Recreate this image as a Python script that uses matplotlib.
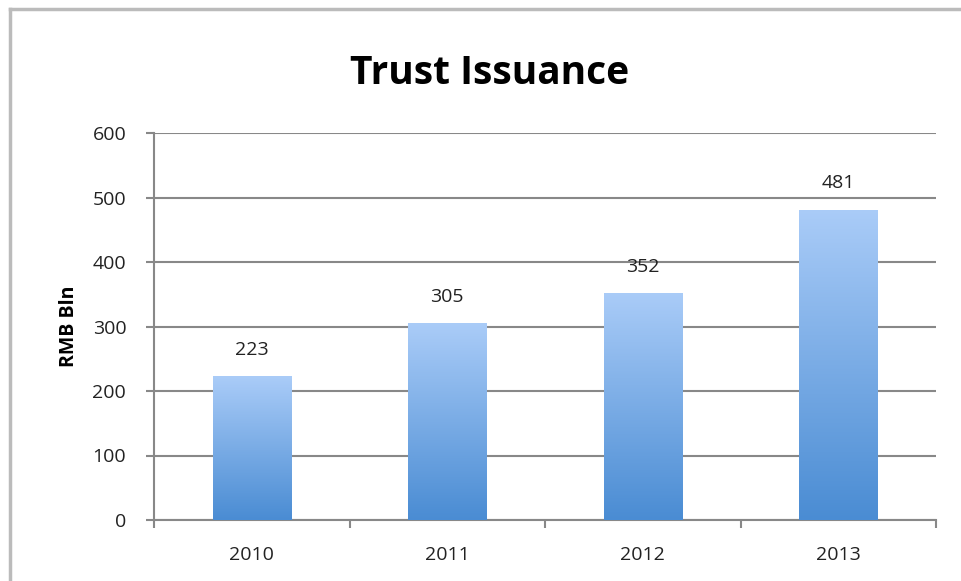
import matplotlib
matplotlib.use("Agg")
import matplotlib.pyplot as plt
import numpy as np
from matplotlib.colors import LinearSegmentedColormap
from matplotlib.lines import Line2D

years = ["2010", "2011", "2012", "2013"]
values = [223, 305, 352, 481]
title = "Trust Issuance"
ylabel = "RMB Bln"
yticks = [0, 100, 200, 300, 400, 500, 600]

plt.rcParams['font.family'] = ['Open Sans', 'DejaVu Sans']

fig = plt.figure(figsize=(9.62, 5.81), dpi=100)
ax = fig.add_axes([154/962, 1 - 520/581, (936-154)/962, (520-133)/581])

x = np.arange(len(years))
bars = ax.bar(x, values, width=0.40, color='none', edgecolor='none', zorder=3)

cmap = LinearSegmentedColormap.from_list('g', ['#4A8CD3', '#AACCF8'])
grad = np.linspace(0, 1, 256).reshape(-1, 1)
for b in bars:
    x0, y0 = b.get_x(), b.get_y()
    w, h = b.get_width(), b.get_height()
    im = ax.imshow(grad, extent=[x0, x0 + w, y0, y0 + h], origin='lower',
                   cmap=cmap, aspect='auto', zorder=3)
    im.set_clip_path(b)

for xi, v in zip(x, values):
    ax.annotate(str(v), (xi, v), xytext=(0, 19), textcoords='offset points',
                ha='center', va='center', fontsize=14, color='#222222')

ax.set_xlim(-0.5, len(years) - 0.5)
ax.set_ylim(0, 600)
ax.set_yticks(yticks)
ax.set_xticks(x)
ax.set_xticklabels(years)
ax.set_xticks(np.arange(-0.5, len(years)), minor=True)
ax.tick_params(axis='x', which='major', length=0, pad=19, labelsize=14, labelcolor='#222222')
ax.tick_params(axis='x', which='minor', length=6, width=1.5, color='#888888', direction='out')
ax.tick_params(axis='y', length=6, width=1.5, color='#888888', pad=14, labelsize=14, labelcolor='#222222')
ax.yaxis.grid(True, color='#888888', linewidth=1.5, zorder=0)
ax.set_axisbelow(True)
for s in ['top', 'right']:
    ax.spines[s].set_visible(False)
for s in ['left', 'bottom']:
    ax.spines[s].set_color('#888888')
    ax.spines[s].set_linewidth(1.5)
ax.set_ylabel(ylabel, fontsize=14, fontweight='bold', labelpad=10)

fig.text(490/962, 1 - 73/581, title, ha='center', va='center', fontsize=28, fontweight='bold')

fig.add_artist(Line2D([10/962, 10/962], [0, 1 - 9/581], color='#BBBBBB', lw=2.5, transform=fig.transFigure))
fig.add_artist(Line2D([10/962, 1], [1 - 9/581, 1 - 9/581], color='#BBBBBB', lw=2.5, transform=fig.transFigure))

fig.savefig('out.png', dpi=100)
